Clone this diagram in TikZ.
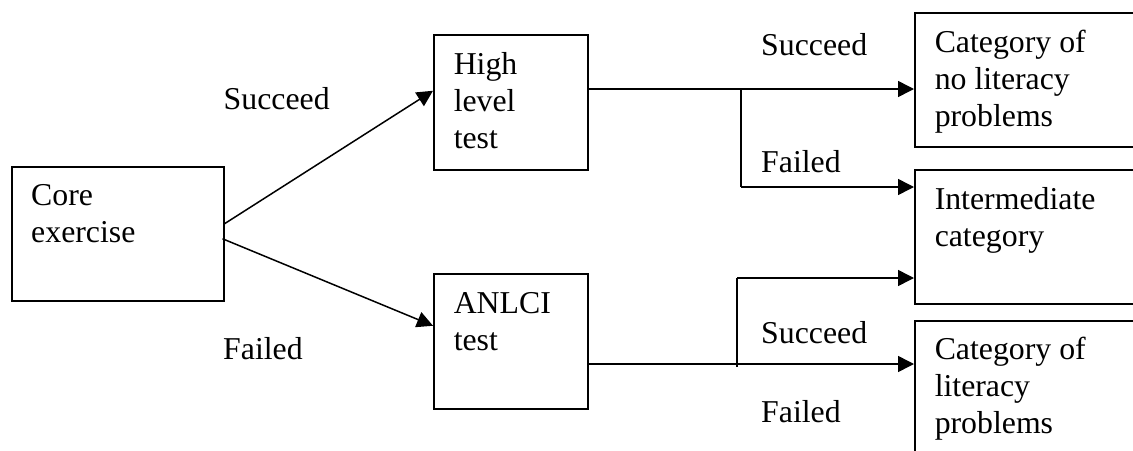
\documentclass[tikz,border=0pt]{standalone}
\usepackage{fontspec}
\setmainfont{Liberation Serif}
\usetikzlibrary{arrows.meta}
\newcommand{\cellbox}[4]{\parbox[c][#2pt][t]{#1pt}{\fontsize{31.8pt}{36.8pt}\selectfont\raggedright\rule{0pt}{#3pt}#4}}
\tikzset{
  x=1pt,y=-1pt,
  box/.style={draw=black,line width=1.5pt,inner xsep=0pt,inner ysep=0pt,anchor=north west,align=left,fill=none},
  lab/.style={inner sep=0pt,anchor=base west,font=\fontsize{31.8pt}{36.8pt}\selectfont},
  conn/.style={draw=black,line width=1.5pt},
  arr/.style={conn,-{Triangle[length=16pt,width=16pt]}}
}
\begin{document}
\begin{tikzpicture}
\useasboundingbox (0,0) rectangle (1133,450);
\node[box] (core) at (11,166) {\hspace{19.5pt}\cellbox{192.5}{134}{39}{Core\\exercise}};
\node[box] (high) at (433,34) {\hspace{20pt}\cellbox{134}{135}{40}{High\\level\\test}};
\node[box] (anlci) at (433,273) {\hspace{20pt}\cellbox{134}{135}{40}{ANLCI\\test}};
\node[box] (noprob) at (914,12) {\hspace{20pt}\cellbox{201}{134}{40}{Category of\\no literacy\\problems}};
\node[box] (inter) at (914,169) {\hspace{20pt}\cellbox{201}{134}{40}{Intermediate\\category}};
\node[box] (prob) at (914,320) {\hspace{20pt}\cellbox{201}{136}{39}{Category of\\literacy\\problems}};
\node[lab] (s1) at (223.5,109) {Succeed};
\node[lab] (f1) at (223,359) {Failed};
\node[lab] (s2) at (761,55) {Succeed};
\node[lab] (f2) at (761,172) {Failed};
\node[lab] (s3) at (761,343) {Succeed};
\node[lab] (f3) at (761,422) {Failed};
\coordinate (hi) at (587,89);
\coordinate (hj) at (741,89);
\coordinate (hk) at (741,187);
\coordinate (ai) at (587,364);
\coordinate (aj) at (737,367);
\coordinate (ak) at (737,278);
\draw[arr] ([yshift=10pt]core.east) -- ([yshift=11.5pt]high.west);
\draw[arr] ([xshift=-2pt,yshift=-5pt]core.east) -- ([yshift=15.5pt]anlci.west);
\draw[arr] (hi) -- (hi -| noprob.west);
\draw[conn] (hj) -- (hk);
\draw[arr] (hk) -- (hk -| inter.west);
\draw[arr] (ai) -- (ai -| prob.west);
\draw[conn] (aj) -- (ak);
\draw[arr] (ak) -- (ak -| inter.west);
\end{tikzpicture}
\end{document}
